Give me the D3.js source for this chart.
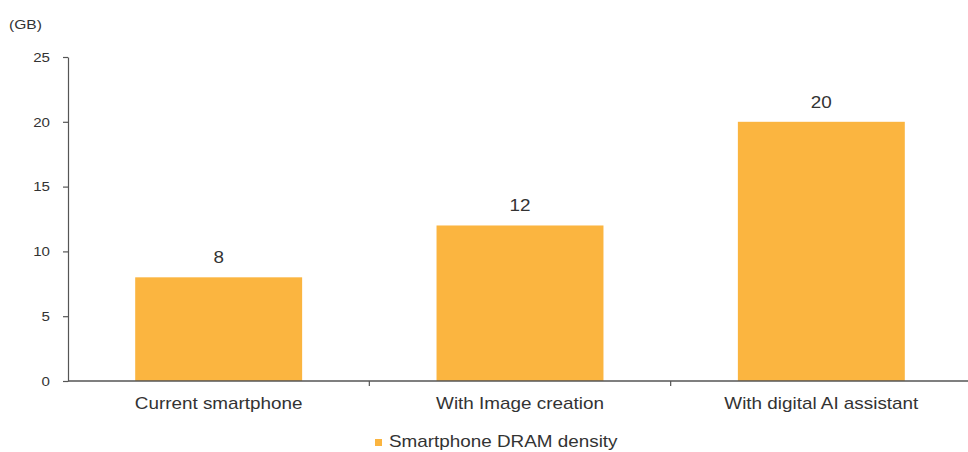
<!DOCTYPE html>
<html>
<head>
<meta charset="utf-8">
<script src="https://cdn.jsdelivr.net/npm/d3@7/dist/d3.min.js"></script>
<style>
  html, body { margin: 0; padding: 0; background: #ffffff; }
  svg { display: block; font-family: "Liberation Sans", Arial, sans-serif; }
</style>
</head>
<body>
<svg id="chart" width="968" height="452"></svg>
<script>
// Smartphone DRAM density by use case (GB)
const categories = ["Current smartphone", "With Image creation", "With digital AI assistant"];
const densityGB = [8, 12, 20];
const yTicks = [0, 5, 10, 15, 20, 25];
const seriesName = "Smartphone DRAM density";
const unitLabel = "(GB)";

const W = 968, H = 452;
const margin = { left: 68, right: -4, top: 57, bottom: 71 };
const barColor = "#fbb540";
const axisColor = "#555555";
const textColor = "#333333";
const stretch = 1.18;   // horizontally widened lettering

const svg = d3.select("#chart");

// Widen a text element horizontally around its anchor point
function widen(sel, s, ax, ay) {
  sel.attr("transform", `translate(${ax},${ay}) scale(${s},1) translate(${-ax},${-ay})`);
}

const x = d3.scaleBand()
  .domain(categories)
  .range([margin.left, W - margin.right])
  .paddingInner(0.446)
  .paddingOuter(0.223);

const y = d3.scaleLinear()
  .domain([0, 25])
  .range([H - margin.bottom, margin.top]);

// Bars
svg.append("g")
  .selectAll("rect")
  .data(densityGB)
  .join("rect")
  .attr("x", (d, i) => x(categories[i]))
  .attr("y", d => y(d))
  .attr("width", x.bandwidth())
  .attr("height", d => y(0) - y(d))
  .attr("fill", barColor);

// Value labels
svg.append("g")
  .selectAll("text")
  .data(densityGB)
  .join("text")
  .attr("x", (d, i) => x(categories[i]) + x.bandwidth() / 2)
  .attr("y", d => y(d) - 14)
  .attr("text-anchor", "middle")
  .attr("font-size", 16)
  .attr("fill", textColor)
  .text(d => d)
  .each(function (d, i) {
    widen(d3.select(this), stretch, x(categories[i]) + x.bandwidth() / 2, y(d) - 14);
  });

// Y axis
const tickPad = 13;
const yAxis = svg.append("g")
  .attr("transform", `translate(${margin.left},0)`)
  .call(d3.axisLeft(y).tickValues(yTicks).tickSize(5).tickPadding(tickPad).tickSizeOuter(0));
yAxis.select(".domain").attr("stroke", axisColor).attr("stroke-width", 1.2);
yAxis.selectAll(".tick line").attr("stroke", axisColor).attr("stroke-width", 1.2);
yAxis.selectAll(".tick text")
  .attr("font-size", 13.5)
  .attr("fill", textColor)
  .attr("font-family", "'Liberation Sans', Arial, sans-serif")
  .each(function () { widen(d3.select(this), 1.12, -(5 + tickPad), 0); });

// X axis: baseline with ticks at category boundaries
const xBase = svg.append("g").attr("transform", `translate(0,${y(0)})`);
xBase.append("line")
  .attr("x1", margin.left).attr("x2", W)
  .attr("stroke", axisColor).attr("stroke-width", 1.5);
const step = x.step();
const boundaries = categories.slice(1).map(c => x(c) - x.paddingInner() * step / 2);
xBase.selectAll("line.sep")
  .data(boundaries)
  .join("line")
  .attr("class", "sep")
  .attr("x1", d => d).attr("x2", d => d)
  .attr("y1", 0).attr("y2", 5)
  .attr("stroke", axisColor).attr("stroke-width", 1.2);
xBase.selectAll("text")
  .data(categories)
  .join("text")
  .attr("x", d => x(d) + x.bandwidth() / 2)
  .attr("y", 28)
  .attr("text-anchor", "middle")
  .attr("font-size", 16)
  .attr("fill", textColor)
  .text(d => d)
  .each(function (d) { widen(d3.select(this), stretch, x(d) + x.bandwidth() / 2, 28); });

// Unit label
svg.append("text")
  .attr("x", 9).attr("y", 29)
  .attr("font-size", 13)
  .attr("fill", textColor)
  .text(unitLabel)
  .call(widen, 1.2, 9, 29);

// Legend
const legend = svg.append("g").attr("transform", "translate(375,447)");
legend.append("rect")
  .attr("x", 0).attr("y", -8)
  .attr("width", 7).attr("height", 7)
  .attr("fill", barColor);
legend.append("text")
  .attr("x", 14).attr("y", 0)
  .attr("font-size", 16)
  .attr("fill", textColor)
  .text(seriesName)
  .call(widen, stretch, 14, 0);
</script>
</body>
</html>
